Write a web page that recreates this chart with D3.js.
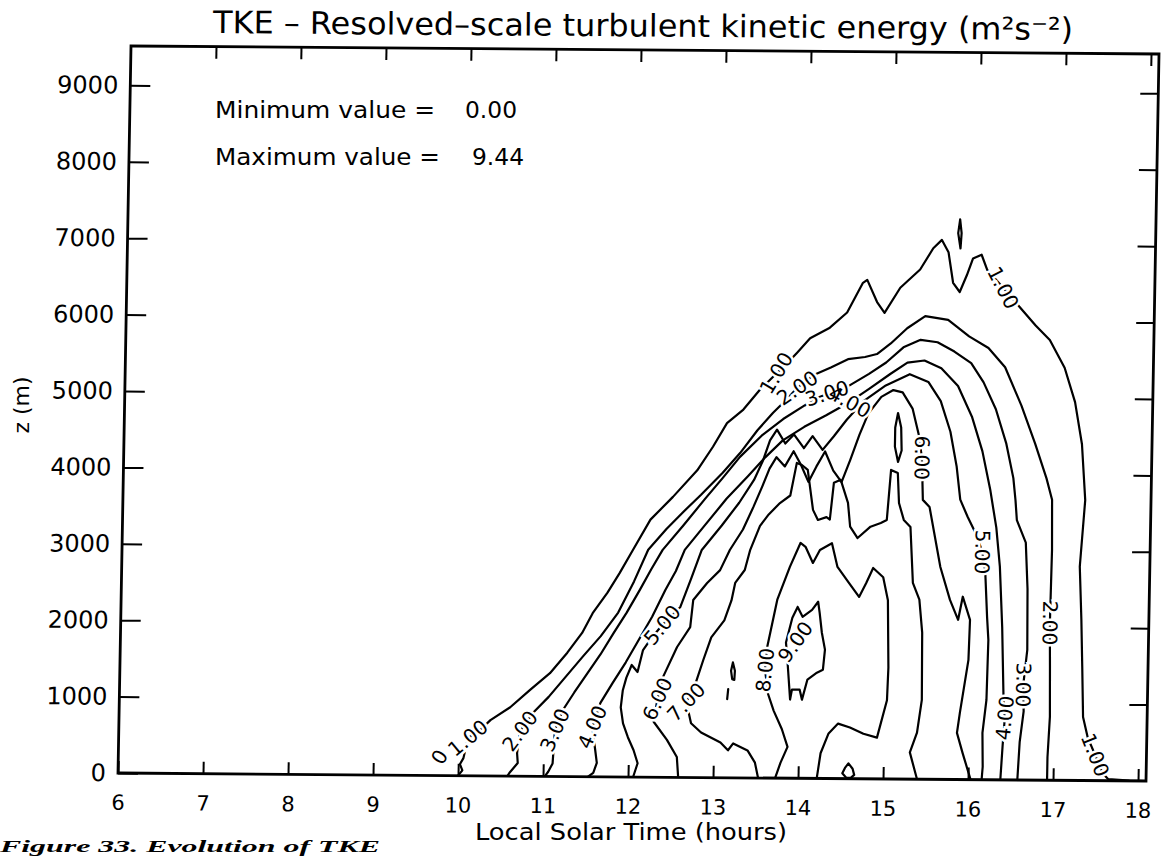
<!DOCTYPE html>
<html><head><meta charset="utf-8">
<script src="https://cdn.jsdelivr.net/npm/d3@7"></script>
<style>body{margin:0;background:#fff;} svg{display:block;}</style>
</head><body>
<script>
// ---------------- data ----------------
const xTicks = [6,7,8,9,10,11,12,13,14,15,16,17,18];
const zTicks = [0,1000,2000,3000,4000,5000,6000,7000,8000,9000];
const titleText = "TKE – Resolved–scale turbulent kinetic energy (m²s⁻²)";
const xTitle = "Local Solar Time (hours)";
const yTitle = "z (m)";
const minText = ["Minimum value =", "0.00"];
const maxText = ["Maximum value =", "9.44"];
const caption = "Figure 33.  Evolution of TKE";

// contour polylines: [local solar time (h), z (m)]
const tke1 = [[10.00,0],[10.05,70],[10.02,150],[10.06,230],[10.11,494],[10.25,600],[10.37,730],[10.60,900],[10.83,1130],[11.06,1350],[11.26,1620],[11.43,1880],[11.55,2140],[11.72,2410],[11.86,2670],[12.01,2970],[12.21,3370],[12.47,3670],[12.75,4020],[12.93,4330],[13.09,4640],[13.28,4820],[13.47,5080],[13.62,5250],[13.76,5400],[13.90,5570],[14.05,5760],[14.28,5900],[14.48,6100],[14.66,6490],[14.71,6530],[14.83,6240],[14.92,6100],[15.10,6430],[15.33,6670],[15.48,6950],[15.58,7060],[15.66,6900],[15.72,6500],[15.80,6380],[15.88,6600],[15.95,6820],[16.05,6870],[16.12,6670],[16.31,6440],[16.50,6200],[16.70,5950],[16.87,5760],[17.05,5400],[17.18,4950],[17.27,4400],[17.32,3670],[17.27,2800],[17.30,2100],[17.32,1490],[17.34,830],[17.40,560],[17.49,335],[17.58,100],[17.65,20],[17.90,5],[18.09,0]];
const tke2 = [[10.58,0],[10.61,50],[10.70,172],[10.69,302],[10.72,590],[10.87,830],[11.05,1040],[11.25,1310],[11.45,1580],[11.65,1840],[11.85,2150],[12.03,2560],[12.19,2975],[12.40,3250],[12.60,3480],[12.80,3700],[13.05,3990],[13.25,4250],[13.45,4550],[13.63,4780],[13.78,4950],[13.91,5110],[14.10,5280],[14.30,5380],[14.50,5490],[14.70,5520],[14.84,5560],[15.00,5700],[15.19,5900],[15.40,6060],[15.67,6015],[15.92,5800],[16.15,5650],[16.35,5400],[16.55,4900],[16.72,4400],[16.86,3950],[16.93,3670],[16.94,3015],[16.93,2059],[16.94,1500],[16.95,830],[16.93,300],[16.93,0]];
const tke3 = [[11.02,0],[11.06,60],[11.11,170],[11.13,607],[11.22,870],[11.35,1100],[11.50,1350],[11.65,1600],[11.80,1880],[11.95,2150],[12.10,2450],[12.23,2720],[12.36,2975],[12.60,3300],[12.85,3650],[13.05,3920],[13.25,4200],[13.50,4480],[13.75,4700],[14.00,4880],[14.15,4980],[14.30,5047],[14.50,5130],[14.75,5300],[14.95,5450],[15.15,5650],[15.35,5750],[15.55,5720],[15.75,5600],[15.95,5450],[16.10,5200],[16.25,4850],[16.38,4400],[16.47,3950],[16.50,3660],[16.52,3400],[16.63,3107],[16.66,2500],[16.67,1703],[16.63,1245],[16.64,900],[16.60,500],[16.58,0]];
const tke4 = [[11.53,0],[11.59,50],[11.63,180],[11.57,650],[11.66,966],[11.80,1230],[11.95,1500],[12.10,1800],[12.25,2100],[12.40,2450],[12.52,2700],[12.62,2977],[12.85,3300],[13.10,3650],[13.35,3950],[13.55,4200],[13.75,4420],[14.00,4600],[14.25,4750],[14.53,4930],[14.75,5100],[15.00,5300],[15.20,5450],[15.40,5480],[15.60,5380],[15.80,5150],[15.97,4750],[16.10,4300],[16.20,3800],[16.28,3300],[16.33,2790],[16.37,2000],[16.40,1085],[16.42,812],[16.40,450],[16.38,0]];
const tke5 = [[12.06,0],[12.11,180],[12.06,350],[11.99,520],[11.93,700],[11.90,910],[11.92,1130],[11.96,1300],[12.02,1466],[12.09,1375],[12.15,1663],[12.23,1794],[12.37,1992],[12.58,2230],[12.70,2600],[12.82,2978],[13.05,3300],[13.25,3600],[13.42,3900],[13.52,4150],[13.60,4420],[13.68,4560],[13.78,4380],[13.88,4500],[14.00,4320],[14.10,4480],[14.22,4300],[14.35,4480],[14.50,4700],[14.70,4950],[14.95,5150],[15.23,5300],[15.45,5200],[15.60,4950],[15.72,4550],[15.80,4100],[15.85,3663],[15.94,3440],[16.05,3200],[16.12,2980],[16.16,2706],[16.19,2131],[16.21,1830],[16.20,1045],[16.16,613],[16.17,170],[16.16,0]];
const tke6 = [[12.59,0],[12.57,267],[12.45,490],[12.29,725],[12.33,1024],[12.39,1310],[12.55,1706],[12.70,1968],[12.73,2322],[12.89,2546],[13.04,2716],[13.15,2980],[13.30,3250],[13.42,3550],[13.52,3820],[13.60,4050],[13.68,4200],[13.78,4080],[13.88,4280],[13.97,4100],[14.06,3880],[14.15,4080],[14.25,4280],[14.35,4030],[14.45,3880],[14.55,4180],[14.65,4500],[14.75,4780],[14.90,5000],[15.04,5090],[15.15,5060],[15.27,4850],[15.35,4500],[15.39,4206],[15.41,3656],[15.49,3565],[15.63,2780],[15.75,2350],[15.85,2090],[15.90,2393],[15.99,2091],[15.98,1567],[15.89,873],[15.86,611],[15.93,350],[16.03,0]];
const tke7 = [[13.53,0],[13.49,200],[13.40,360],[13.23,450],[13.17,360],[13.08,460],[12.85,590],[12.73,710],[12.67,987],[12.76,1180],[12.86,1535],[12.95,1836],[13.10,2060],[13.18,2320],[13.22,2550],[13.33,2720],[13.39,2985],[13.50,3300],[13.60,3450],[13.73,3600],[13.85,3700],[13.92,4127],[13.98,4100],[14.05,4037],[14.12,3514],[14.18,3383],[14.28,3420],[14.32,3390],[14.36,3870],[14.44,3910],[14.53,3610],[14.56,3300],[14.65,3150],[14.80,3300],[14.92,3350],[14.99,3390],[15.03,4045],[15.11,4005],[15.13,3612],[15.19,3392],[15.27,3300],[15.31,2570],[15.39,2350],[15.43,1920],[15.44,1040],[15.39,610],[15.31,350],[15.40,0]];
const tke8 = [[13.73,0],[13.79,200],[13.87,410],[13.80,640],[13.70,880],[13.63,1100],[13.59,1414],[13.61,1716],[13.72,2340],[13.86,2765],[13.98,3080],[14.04,3030],[14.13,2820],[14.21,2990],[14.35,3080],[14.42,2770],[14.56,2560],[14.68,2380],[14.76,2560],[14.84,2760],[14.96,2640],[15.02,2340],[15.04,1460],[15.03,1030],[14.92,540],[14.76,590],[14.60,670],[14.46,720],[14.35,590],[14.26,330],[14.22,0]];
const tke9 = [[13.96,2242],[14.02,2113],[14.13,2206],[14.20,2312],[14.22,2168],[14.25,1907],[14.29,1686],[14.27,1424],[14.20,1384],[14.09,1293],[14.03,1030],[14.00,1161],[13.91,1161],[13.89,1030],[13.85,1553],[13.83,1775],[13.90,2100],[13.96,2242]];
// small closed contours
const cellA = [[13.21,1510],[13.235,1400],[13.23,1280],[13.205,1290],[13.19,1400],[13.21,1510]];
const cellB = [[15.10,4790],[15.14,4600],[15.15,4300],[15.11,4150],[15.07,4350],[15.07,4600],[15.10,4790]];
const cellC = [[14.57,10],[14.52,70],[14.55,140],[14.59,200],[14.64,130],[14.66,50],[14.62,10],[14.57,10]];
const cellD = [[15.79,7330],[15.81,7150],[15.80,6950],[15.77,7150],[15.79,7330]];
const markE = [[13.16,1160],[13.15,1030]];

// contour labels
const labelText  = ["1.00","2.00","3.00","4.00","5.00","6.00","7.00","8.00","9.00",
                    "1.00","2.00","3.00","4.00",
                    "6.00","5.00","2.00","3.00","4.00","1.00","1.00","0"];
const labelHour  = [10.11,10.72,11.13,11.57,12.37,12.33,12.67,13.59,13.94,
                    13.66,13.91,14.26,14.53,
                    15.39,16.12,16.93,16.63,16.42,17.49,16.31,9.78];
const labelZ     = [494,590,607,650,1992,1024,987,1414,1784,
                    5300,5109,5040,4930,
                    4206,2980,2059,1245,812,335,6440,242];
const labelAngle = [-40,-54,-67,-67,-51,-66,-47,-85,-55,
                    -60,-35,-18,28,
                    90,90,90,90,-85,68,62,-60];

// ---------------- drawing ----------------
const FONT = "DejaVu Sans";
const W = 1028, H = 727;
const svg = d3.select("body").append("svg").attr("width",1161).attr("height",857);
svg.append("rect").attr("width",1161).attr("height",857).attr("fill","#fff");

const x = d3.scaleLinear().domain([6, 18.094]).range([0, W]);
const y = d3.scaleLinear().domain([0, 9515]).range([H, 0]);

// slightly skewed plot frame, like the scanned original
const g = svg.append("g").attr("transform","matrix(1,0.00778,-0.01788,1,131,46)");

g.append("clipPath").attr("id","clip").append("rect").attr("width",W).attr("height",H);

const line = d3.line().x(d=>x(d[0])).y(d=>y(d[1]));
const paths = [tke1,tke2,tke3,tke4,tke5,tke6,tke7,tke8,tke9,cellA,cellB,cellC,cellD,markE];
const cg = g.append("g").attr("clip-path","url(#clip)");
cg.selectAll("path.c").data(paths).join("path")
  .attr("class","c").attr("d",line)
  .attr("fill","none").attr("stroke","#000").attr("stroke-width",2.2)
  .attr("stroke-linejoin","round").attr("stroke-linecap","round");

const labels = labelText.map((t,i)=>({t, h:labelHour[i], z:labelZ[i], a:labelAngle[i]}));
const lg = g.append("g").attr("font-family",FONT).attr("font-size",20)
  .attr("text-anchor","middle").attr("dominant-baseline","central");
lg.selectAll("text.halo").data(labels).join("text").attr("class","halo")
  .attr("transform",d=>`translate(${x(d.h)},${y(d.z)}) rotate(${d.a})`)
  .attr("fill","#fff").attr("stroke","#fff").attr("stroke-width",5).text(d=>d.t);
lg.selectAll("text.lab").data(labels).join("text").attr("class","lab")
  .attr("transform",d=>`translate(${x(d.h)},${y(d.z)}) rotate(${d.a})`)
  .attr("fill","#000").text(d=>d.t);

// axes
function styleAxis(sel, fs){
  sel.select(".domain").remove();
  sel.attr("font-family",FONT).attr("font-size",fs);
  sel.selectAll(".tick line").attr("stroke","#000").attr("stroke-width",2);
  sel.selectAll(".tick text").attr("fill","#000");
}
g.append("g").attr("transform",`translate(0,${H})`)
  .call(d3.axisBottom(x).tickValues(xTicks).tickSizeInner(-12).tickSizeOuter(0).tickPadding(22).tickFormat(d3.format("d")))
  .call(s=>styleAxis(s,21));
g.append("g")
  .call(d3.axisLeft(y).tickValues(zTicks).tickSizeInner(-20).tickSizeOuter(0).tickPadding(12).tickFormat(d3.format("d")))
  .call(s=>styleAxis(s,24));
g.append("g")
  .call(d3.axisTop(x).tickValues(xTicks.filter(d=>d>6)).tickSizeInner(-12).tickSizeOuter(0).tickFormat(""))
  .call(s=>styleAxis(s,10));
g.append("g").attr("transform",`translate(${W},0)`)
  .call(d3.axisRight(y).tickValues(zTicks.filter(d=>d>0)).tickSizeInner(-18).tickSizeOuter(0).tickFormat(""))
  .call(s=>styleAxis(s,10));
g.append("rect").attr("width",W).attr("height",H).attr("fill","none")
  .attr("stroke","#000").attr("stroke-width",2.8);

// texts
svg.append("text").attr("x",213).attr("y",36.5).attr("font-family",FONT).attr("font-size",31)
  .attr("textLength",860).attr("lengthAdjust","spacingAndGlyphs")
  .attr("transform","rotate(0.46,643,36.5)").text(titleText);
const info = svg.append("g").attr("font-family",FONT).attr("font-size",23);
info.append("text").attr("x",215).attr("y",118).attr("textLength",220).attr("lengthAdjust","spacingAndGlyphs").text(minText[0]);
info.append("text").attr("x",465).attr("y",118).attr("textLength",52).attr("lengthAdjust","spacingAndGlyphs").text(minText[1]);
info.append("text").attr("x",215).attr("y",165).attr("textLength",225).attr("lengthAdjust","spacingAndGlyphs").text(maxText[0]);
info.append("text").attr("x",472).attr("y",165).attr("textLength",52).attr("lengthAdjust","spacingAndGlyphs").text(maxText[1]);

svg.append("text").attr("x",631).attr("y",840).attr("text-anchor","middle")
  .attr("font-family",FONT).attr("font-size",23)
  .attr("textLength",312).attr("lengthAdjust","spacingAndGlyphs").text(xTitle);
svg.append("text").attr("transform","translate(29,405) rotate(-90)").attr("text-anchor","middle")
  .attr("font-family",FONT).attr("font-size",22).text(yTitle);
svg.append("text").attr("x",0).attr("y",852).attr("font-family","Liberation Serif")
  .attr("font-weight","bold").attr("font-style","italic").attr("font-size",17)
  .attr("textLength",380).attr("lengthAdjust","spacingAndGlyphs").text(caption);
</script>
</body></html>
